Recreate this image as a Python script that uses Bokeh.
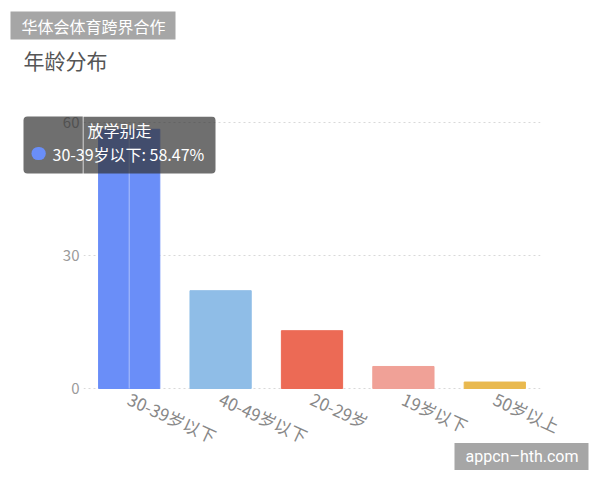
from bokeh.plotting import figure
from bokeh.models import Label, BoxAnnotation, Range1d, FactorRange, ColumnDataSource
from bokeh.embed import file_html
from bokeh.resources import INLINE

categories = ["30-39岁以下", "40-49岁以下", "20-29岁", "19岁以下", "50岁以上"]
shares = [58.47, 22.06, 13.04, 4.97, 1.46]
colors = ["#6a8ef8", "#8fbde7", "#ec6a55", "#f0a197", "#e9b94f"]
y_ticks = [0, 30, 60]
title_text = "年龄分布"
watermark_top = "华体会体育跨界合作"
watermark_bottom = "appcn–hth.com"
tooltip_title = "放学别走"

FONT = "Noto Sans CJK SC"
W, H = 592, 472

src = ColumnDataSource(dict(cat=categories, v=shares, c=colors))

p = figure(width=W, height=H, x_range=FactorRange(*categories), y_range=Range1d(-0.45, 61.35),
           output_backend="svg", toolbar_location=None,
           min_border_left=83, min_border_right=W - 540, min_border_top=116, min_border_bottom=H - 390)
p.outline_line_color = None
p.background_fill_color = "white"

p.vbar(x="cat", top="v", width=0.67, color="c", source=src)
# axis pointer line inside the hovered bar
p.segment(x0=[categories[0]], x1=[categories[0]], y0=[0], y1=[shares[0]],
          line_color="white", line_alpha=0.45, line_width=1)

p.xgrid.grid_line_color = None
p.ygrid.ticker = y_ticks
p.ygrid.grid_line_color = "#d9d9d9"
p.ygrid.grid_line_dash = "2 3"

p.yaxis.ticker = y_ticks
p.yaxis.axis_line_color = None
p.yaxis.major_tick_line_color = None
p.yaxis.minor_tick_line_color = None
p.yaxis.major_tick_out = 0
p.yaxis.major_tick_in = 0
p.yaxis.major_label_text_color = "#9a9a9a"
p.yaxis.major_label_text_font = FONT
p.yaxis.major_label_text_font_size = "15px"
p.yaxis.major_label_standoff = 4

p.xaxis.axis_line_color = None
p.xaxis.major_tick_line_color = None
p.xaxis.minor_tick_line_color = None
p.xaxis.major_label_text_color = "#888888"
p.xaxis.major_label_text_font = FONT
p.xaxis.major_label_text_font_size = "17px"
p.xaxis.major_label_orientation = -0.43
p.xaxis.major_label_standoff = 1

def lab(x, y, text, place, **kw):
    p.add_layout(Label(x=x, y=y, x_units="canvas", y_units="canvas", text=text,
                       text_baseline="middle", **kw), place)

# title and watermarks (labels in the top panel are not clipped to the frame)
lab(23, 59, title_text, "above", text_font=FONT, text_font_size="21px", text_color="#555555")
lab(10, 25, watermark_top, "above", text_font=FONT, text_font_size="16px", text_color="white",
    background_fill_color="#a6a6a6", padding=(11, 10, 2, 2))
lab(454, 456, watermark_bottom, "above", text_font="Roboto", text_font_size="16px",
    text_color="white", background_fill_color="#a6a6a6", padding=(11, 10, 4, 4))

# tooltip: part inside the plot frame
p.add_layout(BoxAnnotation(left=82, right=215, top=116, bottom=173,
                           left_units="canvas", right_units="canvas",
                           top_units="canvas", bottom_units="canvas",
                           line_color=None, fill_color="#323232", fill_alpha=0.7,
                           border_radius=(0, 4, 4, 0)))
# tooltip: part left of the frame
lab(23, 144.5, " ", "left", text_font_size="1px", level="guide",
    background_fill_color="#323232", background_fill_alpha=0.7,
    padding=(29, 30, 28, 28), border_radius=(4, 0, 0, 4))
# tooltip texts and marker
lab(119, 129, tooltip_title, "center", text_font=FONT, text_font_size="16px",
    text_color="white", text_align="center", level="overlay")
lab(31, 153, " ", "right", text_font_size="1px", level="overlay",
    background_fill_color=colors[0], padding=(7, 7, 6, 6), border_radius=7)
lab(52, 153, f"{categories[0]}: {shares[0]:.2f}%", "above", text_font=FONT,
    text_font_size="16px", text_color="white", level="overlay")

open("out.html", "w").write(file_html(p, INLINE))
